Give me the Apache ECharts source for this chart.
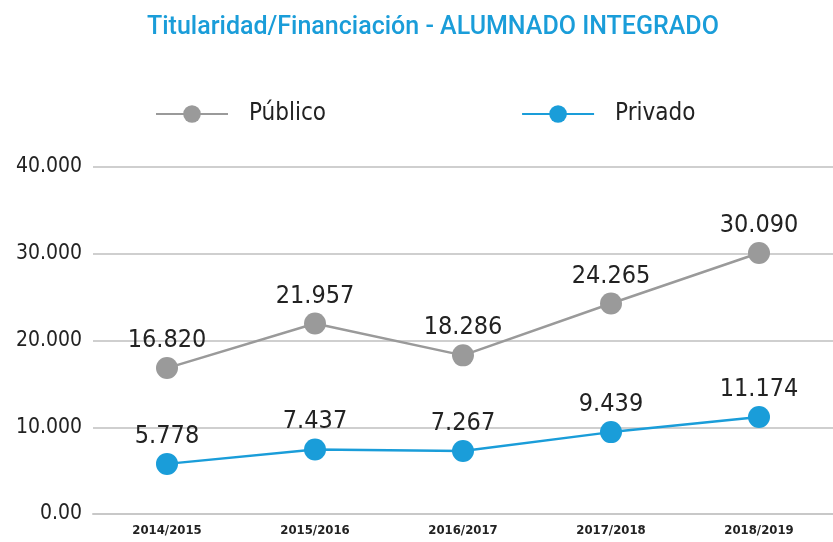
<!DOCTYPE html>
<html>
<head>
<meta charset="utf-8">
<script src="https://cdn.jsdelivr.net/npm/echarts@6/dist/echarts.min.js"></script>
<style>
  html, body { margin: 0; padding: 0; background: #fff; }
  #graphics { width: 833px; height: 542px; }
</style>
</head>
<body>
<div id="graphics"></div>
<script>
// Data
const categories = ["2014/2015", "2015/2016", "2016/2017", "2017/2018", "2018/2019"];
const publico = [16820, 21957, 18286, 24265, 30090];
const privado = [5778, 7437, 7267, 9439, 11174];

const narrow = "'Liberation Sans Narrow', 'DejaVu Sans Condensed', sans-serif";

function dots(v) {
    return String(v).replace(/\B(?=(\d{3})+(?!\d))/g, ".");
}

var myChart = echarts.init(document.getElementById('graphics'));

var option = {
    animation: false,
    title: {
        text: 'Titularidad/Financiación - ALUMNADO INTEGRADO',
        left: 142,
        top: 10,
        textStyle: {
            color: '#1a9dd9',
            fontSize: 25,
            fontWeight: 500,
            fontFamily: 'Roboto, sans-serif'
        }
    },
    legend: {
        top: 97,
        left: 150,
        itemWidth: 72,
        itemHeight: 22,
        itemGap: 195,
        textStyle: { fontSize: 24, color: '#222', fontFamily: narrow, padding: [0, 0, 0, 16] },
        data: ['Público', 'Privado']
    },
    grid: { left: 93, right: 0, top: 167, bottom: 28 },
    xAxis: {
        type: 'category',
        data: categories,
        axisLine: { lineStyle: { color: '#c8c8c8', width: 2 } },
        axisTick: { show: false },
        axisLabel: {
            color: '#222',
            fontSize: 13,
            fontWeight: 'bold',
            fontFamily: narrow,
            margin: 10
        }
    },
    yAxis: {
        type: 'value',
        min: 0,
        max: 40000,
        interval: 10000,
        axisLine: { show: false },
        axisTick: { show: false },
        splitLine: { lineStyle: { color: '#cfcfcf', width: 2 } },
        axisLabel: {
            color: '#222',
            fontSize: 21,
            fontFamily: narrow,
            margin: 11,
            formatter: function (v) { return v === 0 ? '0.00' : dots(v); }
        }
    },
    series: [{
        name: 'Público',
        type: 'line',
        data: publico,
        symbol: 'circle',
        symbolSize: 22,
        itemStyle: { color: '#9a9a9a' },
        lineStyle: { color: '#9a9a9a', width: 2.5 },
        label: {
            show: true,
            position: 'top',
            distance: 4,
            color: '#222',
            fontSize: 25,
            fontFamily: narrow,
            formatter: function (p) { return dots(p.value); }
        }
    }, {
        name: 'Privado',
        type: 'line',
        data: privado,
        symbol: 'circle',
        symbolSize: 22,
        itemStyle: { color: '#1a9dd9' },
        lineStyle: { color: '#1a9dd9', width: 2.5 },
        label: {
            show: true,
            position: 'top',
            distance: 4,
            color: '#222',
            fontSize: 25,
            fontFamily: narrow,
            formatter: function (p) { return dots(p.value); }
        }
    }]
};

myChart.setOption(option);
</script>
</body>
</html>
